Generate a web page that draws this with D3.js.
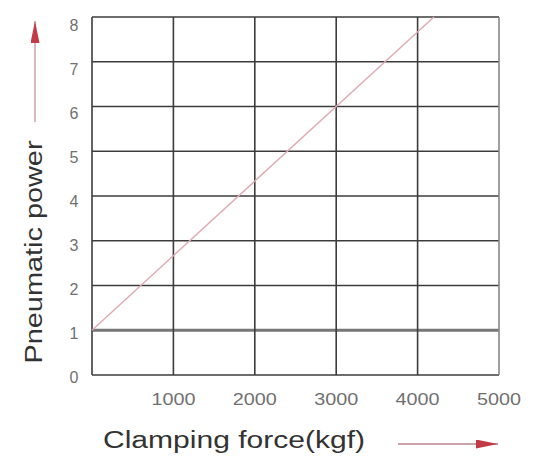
<!DOCTYPE html>
<html>
<head>
<meta charset="utf-8">
<script src="https://cdn.jsdelivr.net/npm/d3@7"></script>
<style>
  html, body { margin: 0; padding: 0; background: #fff; }
  svg { display: block; font-family: Arial, "Liberation Sans", sans-serif; }
</style>
</head>
<body>
<div id="chart"></div>
<script>
// 数据
const forceTicks = [1000, 2000, 3000, 4000, 5000];
const powerTicks = [0, 1, 2, 3, 4, 5, 6, 7, 8];
const forceValues = [0, 4200];
const powerValues = [1, 8];

const width = 545, height = 459;
const margin = { top: 17, right: 46, bottom: 84, left: 92 };

const svg = d3.select('#chart').append('svg')
    .attr('width', width)
    .attr('height', height);

// 箭头头部
const defs = svg.append('defs');
defs.append('marker')
    .attr('id', 'head')
    .attr('viewBox', '0 0 10 10')
    .attr('refX', 10).attr('refY', 5)
    .attr('markerWidth', 22).attr('markerHeight', 9)
    .attr('markerUnits', 'userSpaceOnUse')
    .attr('orient', 'auto')
    .attr('preserveAspectRatio', 'none')
    .append('path')
    .attr('d', 'M0,0 L10,5 L0,10 Z')
    .attr('fill', '#c23a45');

// 比例尺
const x = d3.scaleLinear().domain([0, 5000]).range([margin.left, width - margin.right]);
const y = d3.scaleLinear().domain([0, 8]).range([height - margin.bottom, margin.top]);
// labels sit a bit lower than the grid near the top
const yLabel = d3.scaleLinear().domain([0, 8]).range([377, 25]);

// 网格
const grid = svg.append('g');
grid.selectAll('line.h')
    .data(powerTicks)
    .join('line')
    .attr('x1', x(0)).attr('x2', x(5000))
    .attr('y1', d => y(d)).attr('y2', d => y(d))
    .attr('stroke', d => d === 1 ? '#777' : '#3c3c3c')
    .attr('stroke-width', d => d === 1 ? 3 : 1.6);

grid.selectAll('line.v')
    .data([0].concat(forceTicks))
    .join('line')
    .attr('y1', y(0)).attr('y2', y(8))
    .attr('x1', d => x(d)).attr('x2', d => x(d))
    .attr('stroke', d => d === 5000 ? '#888' : '#3c3c3c')
    .attr('stroke-width', 1.6);

// 刻度文字
svg.append('g').selectAll('text')
    .data(forceTicks)
    .join('text')
    .attr('x', d => x(d))
    .attr('y', 405)
    .attr('text-anchor', 'middle')
    .attr('textLength', 44)
    .attr('lengthAdjust', 'spacingAndGlyphs')
    .style('font-size', '16px')
    .attr('fill', '#707070')
    .text(d => d);

svg.append('g').selectAll('text')
    .data(powerTicks)
    .join('text')
    .attr('x', 74)
    .attr('y', d => yLabel(d) + 6)
    .attr('text-anchor', 'middle')
    .style('font-size', '16px')
    .attr('fill', '#707070')
    .text(d => d);

// 折线
const line = d3.line()
    .x((d, i) => x(forceValues[i]))
    .y(d => y(d));

svg.append('path')
    .datum(powerValues)
    .attr('fill', 'none')
    .attr('stroke', '#e0aab2')
    .attr('stroke-width', 1.4)
    .attr('d', line);

// 坐标轴标题
svg.append('text')
    .attr('x', 234)
    .attr('y', 448)
    .attr('text-anchor', 'middle')
    .attr('textLength', 262)
    .attr('lengthAdjust', 'spacingAndGlyphs')
    .style('font-size', '23px')
    .attr('fill', '#333')
    .text('Clamping force(kgf)');

svg.append('text')
    .attr('transform', 'translate(42,252) rotate(-90)')
    .attr('text-anchor', 'middle')
    .attr('textLength', 223)
    .attr('lengthAdjust', 'spacingAndGlyphs')
    .style('font-size', '23px')
    .attr('fill', '#333')
    .text('Pneumatic power');

// 箭头
svg.append('line')
    .attr('x1', 398).attr('y1', 444)
    .attr('x2', 498).attr('y2', 444)
    .attr('stroke', '#b9868c')
    .attr('stroke-width', 1.5)
    .attr('marker-end', 'url(#head)');

svg.append('line')
    .attr('x1', 35).attr('y1', 122)
    .attr('x2', 35).attr('y2', 21)
    .attr('stroke', '#c9a3a8')
    .attr('stroke-width', 1.5)
    .attr('marker-end', 'url(#head)');
</script>
</body>
</html>
